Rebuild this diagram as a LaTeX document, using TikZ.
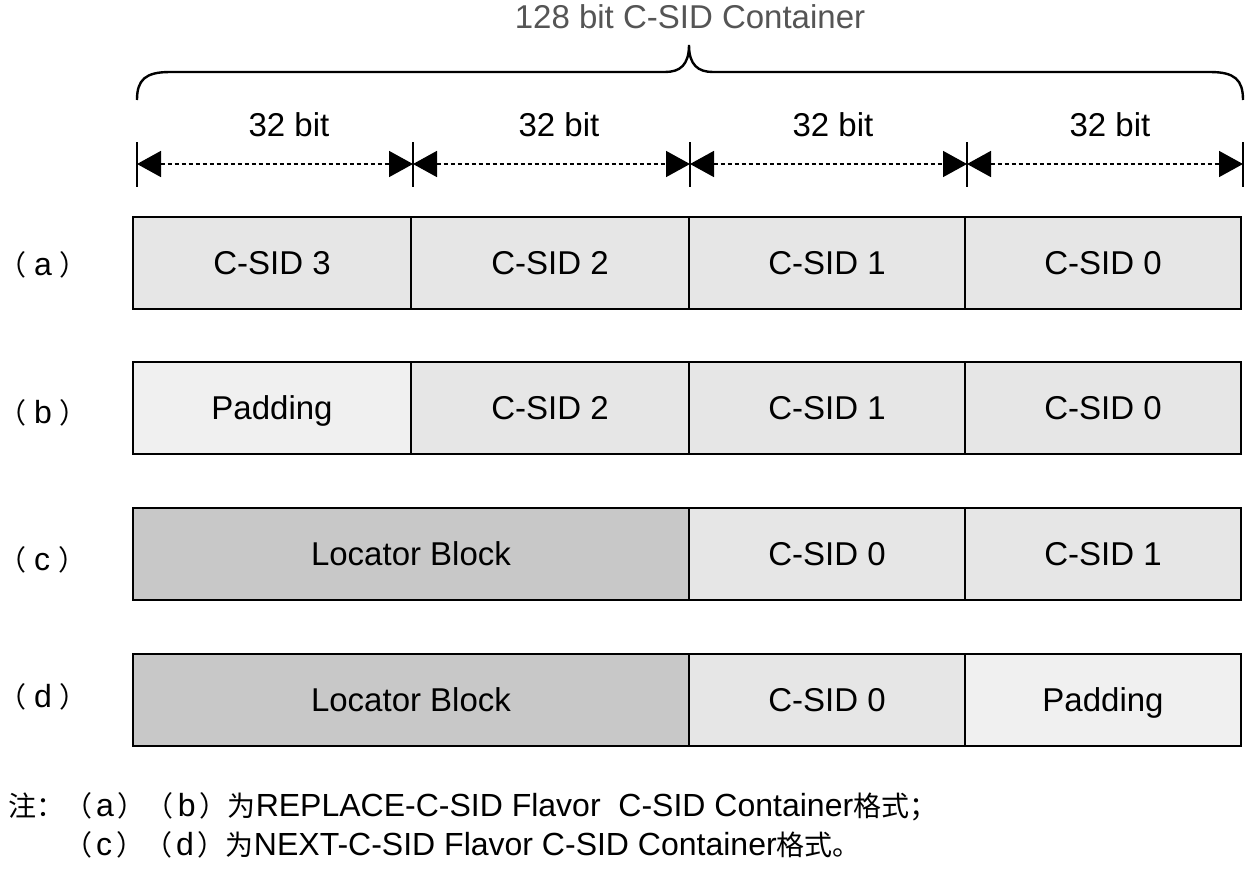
\documentclass[tikz,border=0pt]{standalone}
\usepackage{fontspec}
\setmainfont{Liberation Sans}
\newfontfamily\cjk{Noto Sans CJK SC}
\usetikzlibrary{arrows.meta}
\definecolor{cellgray}{HTML}{E6E6E6}
\definecolor{padgray}{HTML}{F0F0F0}
\definecolor{locgray}{HTML}{C8C8C8}
\definecolor{titlegray}{HTML}{555555}
\newcommand{\fwp}[2]{{\cjk\fontsize{28}{32}\selectfont （}\hspace{#2}#1\hspace{#2}{\cjk\fontsize{28}{32}\selectfont ）}}
\tikzset{
  cell/.style={draw=black, line width=1.6pt, minimum height=92pt, inner sep=0pt, text height=23.8pt, text depth=0pt, font=\fontsize{33}{36}\selectfont},
  csid/.style={cell, fill=cellgray},
  pad/.style={cell, fill=padgray},
  loc/.style={cell, fill=locgray},
  dimarrow/.style={line width=1.6pt, dash pattern=on 4pt off 3pt, {Triangle[length=24pt,width=26pt]}-{Triangle[length=24pt,width=26pt]}},
  tick/.style={line width=1.6pt},
  lbl/.style={font=\fontsize{33}{36}\selectfont, inner sep=0pt, text height=23.8pt, text depth=0pt},
  rowlbl/.style={font=\fontsize{32}{34}\selectfont, inner sep=0pt, anchor=west},
  note/.style={font=\fontsize{32}{36}\selectfont, inner sep=0pt, anchor=base west},
}
\begin{document}
\begin{tikzpicture}[x=1pt,y=-1pt]
\useasboundingbox[fill=white] (0,0) rectangle (1245,876);
% title and brace
\node[lbl, text=titlegray] (title) at (690,17) {128 bit C-SID Container};
\coordinate (bl) at (137,100);
\coordinate (br) at (1243,100);
\coordinate (btip) at (689,45);
\draw[line width=2.4pt] (bl) .. controls (137,80) and (145,72) .. (170,72) -- (665,72)
  .. controls (680,72) and (689,65) .. (btip) .. controls (689,65) and (698,72) .. (713,72)
  -- (1210,72) .. controls (1235,72) and (1243,80) .. (br);
% ticks
\foreach \i/\x in {0/137,1/413,2/690,3/967,4/1243}{
  \coordinate (t\i) at (\x,164);
  \coordinate (tt\i) at (\x,142);
  \coordinate (tb\i) at (\x,187);
  \draw[tick] (tt\i) -- (tb\i);
}
\draw[dimarrow] (t0) -- (t1);
\draw[dimarrow] (t1) -- (t2);
\draw[dimarrow] (t2) -- (t3);
\draw[dimarrow] (t3) -- (t4);
\node[lbl] (w1) at (289,125) {32 bit};
\node[lbl] (w2) at (559,125) {32 bit};
\node[lbl] (w3) at (833,125) {32 bit};
\node[lbl] (w4) at (1110,125) {32 bit};
% row a
\node[csid, minimum width=278pt] (a3) at (272,263) {C-SID 3};
\node[csid, minimum width=278pt] (a2) at (550,263) {C-SID 2};
\node[csid, minimum width=276pt] (a1) at (827,263) {C-SID 1};
\node[csid, minimum width=276pt] (a0) at (1103,263) {C-SID 0};
% row b
\node[pad, minimum width=278pt] (b3) at (272,408) {Padding};
\node[csid, minimum width=278pt] (b2) at (550,408) {C-SID 2};
\node[csid, minimum width=276pt] (b1) at (827,408) {C-SID 1};
\node[csid, minimum width=276pt] (b0) at (1103,408) {C-SID 0};
% row c
\node[loc, minimum width=556pt] (cl) at (411,554) {Locator Block};
\node[csid, minimum width=276pt] (c0) at (827,554) {C-SID 0};
\node[csid, minimum width=276pt] (c1) at (1103,554) {C-SID 1};
% row d
\node[loc, minimum width=556pt] (dl) at (411,700) {Locator Block};
\node[csid, minimum width=276pt] (d0) at (827,700) {C-SID 0};
\node[pad, minimum width=276pt] (d1) at (1103,700) {Padding};
% row labels
\node[rowlbl] (la) at (4,265) {\hspace{-6pt}\fwp{a}{8pt}};
\node[rowlbl] (lb) at (4,413) {\hspace{-6pt}\fwp{b}{8pt}};
\node[rowlbl] (lc) at (4,560) {\hspace{-6pt}\fwp{c}{8pt}};
\node[rowlbl] (ld) at (4,697) {\hspace{-6pt}\fwp{d}{8pt}};
% note
\node[note] (n1) at (8,816) {{\cjk\fontsize{28}{32}\selectfont 注：}\fwp{a}{4pt}\fwp{b}{4pt}{\cjk\fontsize{28}{32}\selectfont 为}REPLACE-C-SID Flavor\ \ C-SID Container{\cjk\fontsize{28}{32}\selectfont 格式；}};
\node[note] (n2) at (64,855) {\fwp{c}{4pt}\fwp{d}{4pt}{\cjk\fontsize{28}{32}\selectfont 为}NEXT-C-SID Flavor C-SID Container{\cjk\fontsize{28}{32}\selectfont 格式。}};
\end{tikzpicture}
\end{document}
